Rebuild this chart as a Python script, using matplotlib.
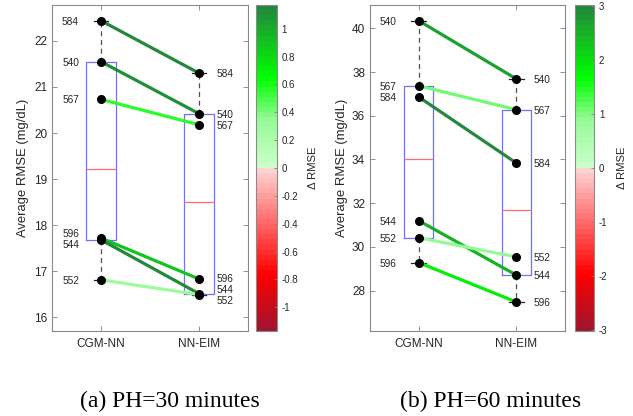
import numpy as np
import matplotlib
matplotlib.use('Agg')
import matplotlib.pyplot as plt
from matplotlib.colors import LinearSegmentedColormap, Normalize
from matplotlib.cm import ScalarMappable
from matplotlib.ticker import FormatStrFormatter

plt.rcParams['font.family'] = ['Liberation Sans', 'DejaVu Sans']

# Daten (RMSE pro Patient)
patients = ['584', '540', '567', '596', '544', '552']
cgm_30 = [22.44, 21.55, 20.73, 17.72, 17.68, 16.81]
eim_30 = [21.30, 20.42, 20.18, 16.83, 16.51, 16.49]

patients_60 = ['540', '567', '584', '544', '552', '596']
cgm_60 = [40.35, 37.37, 36.86, 31.20, 30.42, 29.28]
eim_60 = [37.69, 36.28, 33.84, 28.71, 29.54, 27.48]

methods = ['CGM-NN', 'NN-EIM']
captions = ['(a) PH=30 minutes', '(b) PH=60 minutes']

# Farbskala rot -> weiss -> gruen
cmap = LinearSegmentedColormap.from_list('rg', [
    (0.0, '#a0142d'), (0.17, '#ff0000'), (0.4999, '#ffd7d7'),
    (0.5001, '#cdffcd'), (0.65, '#96fa96'), (0.78, '#00ff00'),
    (1.0, '#23873c')], N=64)

grey = '#262626'


def matlab_stats(v):
    s = np.sort(v)
    n = len(s)
    def q(p):
        pos = n * p + 0.5
        lo = int(np.floor(pos)) - 1
        fr = pos - np.floor(pos)
        if lo + 1 >= n:
            return s[-1]
        return s[lo] + fr * (s[lo + 1] - s[lo])
    return dict(med=np.median(s), q1=q(0.25), q3=q(0.75),
                whislo=s[0], whishi=s[-1], fliers=[])


def spread(ax, x, vals, gap):
    pix = ax.transData.transform(np.column_stack([np.full(len(vals), x), vals]))[:, 1]
    clusters = []
    for i in np.argsort(-pix):
        clusters.append([[i], pix[i]])
        while len(clusters) > 1:
            (m1, c1), (m2, c2) = clusters[-2], clusters[-1]
            if (c1 - (len(m1) - 1) / 2 * gap) - (c2 + (len(m2) - 1) / 2 * gap) < gap:
                m = m1 + m2
                clusters[-2:] = [[m, np.mean(pix[m])]]
            else:
                break
    out = np.empty_like(pix)
    for m, c in clusters:
        for k, i in enumerate(m):
            out[i] = c + ((len(m) - 1) / 2 - k) * gap
    return out - pix


fig = plt.figure(figsize=(6.33, 4.16), dpi=100)

panels = [
    dict(names=patients, a=cgm_30, b=eim_30, ylim=(15.7, 22.78), yt=np.arange(16, 23, 1),
         cbt=np.round(np.arange(-1, 1.01, 0.2), 1) + 0.0, ax=(52, 196), cax=(256, 20.5),
         ylab=23, clab=313, cap=170),
    dict(names=patients_60, a=cgm_60, b=eim_60, ylim=(26.15, 41.07), yt=np.arange(28, 41, 2),
         cbt=np.arange(-3, 4, 1), ax=(370, 195), cax=(574.5, 19.5),
         ylab=342, clab=622, cap=491),
]

W, H = 633, 416
for n, p in enumerate(panels):
    a = np.array(p['a'])
    b = np.array(p['b'])
    delta = a - b
    lim = np.abs(delta).max()
    norm = Normalize(-lim, lim)

    ax = fig.add_axes([p['ax'][0] / W, 85 / H, p['ax'][1] / W, 326 / H])
    ax.set_xlim(0.5, 2.5)
    ax.set_ylim(*p['ylim'])

    ax.bxp([matlab_stats(a), matlab_stats(b)], positions=[1, 2], widths=0.3,
           capwidths=0.15, showfliers=False,
           boxprops=dict(color='#7070ff', lw=0.9),
           medianprops=dict(color='#ff6a6a', lw=0.9),
           whiskerprops=dict(color='#505050', lw=0.9, linestyle=(0, (4, 3))),
           capprops=dict(color='#202020', lw=0.9))

    for i in range(len(a)):
        ax.plot([1, 2], [a[i], b[i]], color=cmap(norm(delta[i])), lw=2.3,
                solid_capstyle='butt', zorder=3)
    ax.plot(np.ones(len(a)), a, 'o', color='k', ms=5.5, zorder=4)
    ax.plot(np.full(len(b), 2), b, 'o', color='k', ms=5.5, zorder=4)

    off_a = spread(ax, 1, a, 11)
    off_b = spread(ax, 2, b, 11)
    for i, name in enumerate(p['names']):
        ax.annotate(name, (1, a[i]), xytext=(-15.8, off_a[i] * 0.72 - 0.7),
                    textcoords='offset points', ha='right', va='center',
                    fontsize=7.3, color=grey)
        ax.annotate(name, (2, b[i]), xytext=(12.6, off_b[i] * 0.72 - 0.7),
                    textcoords='offset points', ha='left', va='center',
                    fontsize=7.3, color=grey)

    ax.set_xticks([1, 2], methods)
    ax.set_yticks(p['yt'])
    ax.tick_params(direction='in', top=True, right=True, length=3.5, width=0.6,
                   color='#808080', labelsize=8.5, labelcolor=grey)
    ax.tick_params(axis='x', pad=5)
    for s in ax.spines.values():
        s.set_color('#8a8a8a')
        s.set_linewidth(0.8)

    fig.text(p['ylab'] / W, 0.596, 'Average RMSE (mg/dL)', rotation=90,
             ha='center', va='center', fontsize=9.4, color=grey)

    cax = fig.add_axes([p['cax'][0] / W, 85 / H, p['cax'][1] / W, 326 / H])
    cb = fig.colorbar(ScalarMappable(norm=norm, cmap=cmap), cax=cax)
    cb.set_ticks(p['cbt'])
    cax.minorticks_off()
    cax.yaxis.set_major_formatter(FormatStrFormatter('%g'))
    cax.tick_params(direction='in', length=2.5, width=0.6, color='#808080',
                    labelsize=7, labelcolor=grey)
    cb.outline.set_edgecolor('#8a8a8a')
    cb.outline.set_linewidth(0.8)
    fig.text(p['clab'] / W, 0.596, '\u0394 RMSE', rotation=90,
             ha='center', va='center', fontsize=8.1, color=grey)

    fig.text(p['cap'] / W, 1 - 401.5 / H, captions[n],
             ha='center', va='center', fontsize=17, family='Liberation Serif')

fig.savefig('out.png', dpi=100)
